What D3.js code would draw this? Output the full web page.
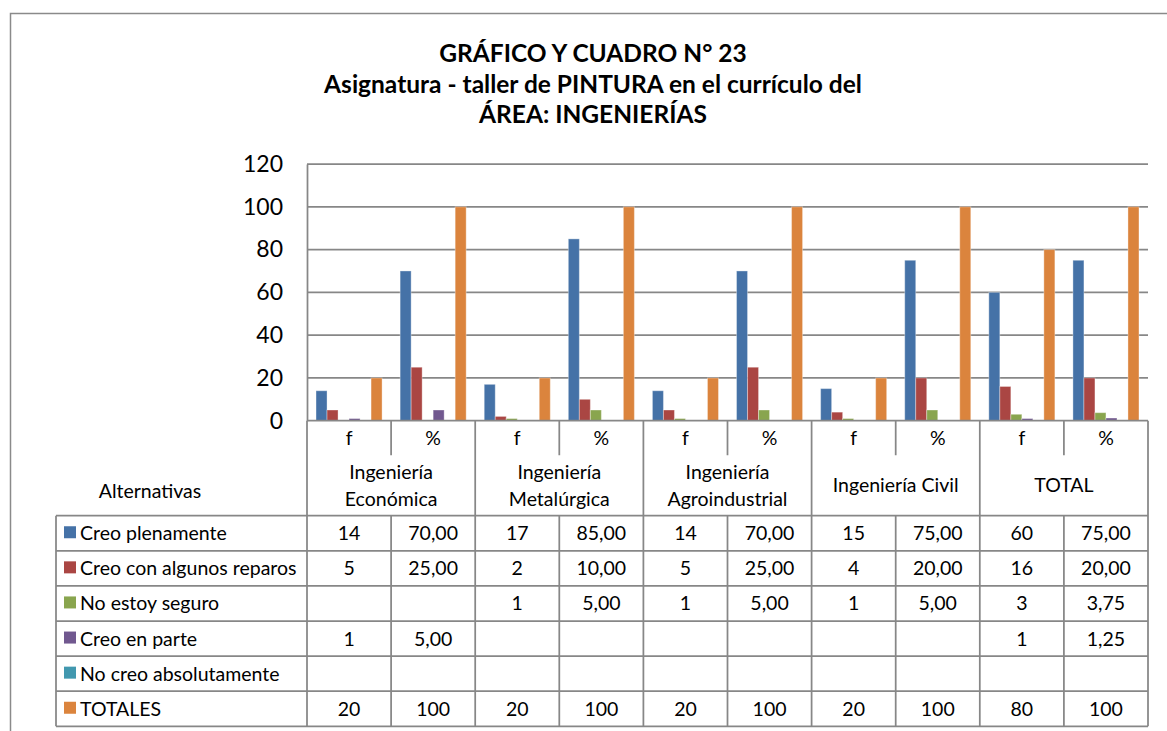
<!DOCTYPE html>
<html>
<head>
<meta charset="utf-8">
<script src="https://cdn.jsdelivr.net/npm/d3@7"></script>
<style>
  body { margin: 0; background: #fff; }
  text { font-family: Lato, "Noto Sans", sans-serif; fill: #000; }
</style>
</head>
<body>
<div id="chart"></div>
<script>
// Data
const titleLines = ["GRÁFICO Y CUADRO N° 23", "Asignatura - taller de PINTURA en el currículo del", "ÁREA: INGENIERÍAS"];
const groups = [["Ingeniería", "Económica"], ["Ingeniería", "Metalúrgica"], ["Ingeniería", "Agroindustrial"], ["Ingeniería Civil"], ["TOTAL"]];
const subCats = ["f", "%"];
const seriesNames = ["Creo plenamente", "Creo con algunos reparos", "No estoy seguro", "Creo en parte", "No creo absolutamente", "TOTALES"];
const creoPlenamente = [14, 70, 17, 85, 14, 70, 15, 75, 60, 75];
const creoConReparos = [5, 25, 2, 10, 5, 25, 4, 20, 16, 20];
const noEstoySeguro = [null, null, 1, 5, 1, 5, 1, 5, 3, 3.75];
const creoEnParte = [1, 5, null, null, null, null, null, null, 1, 1.25];
const noCreo = [null, null, null, null, null, null, null, null, null, null];
const totales = [20, 100, 20, 100, 20, 100, 20, 100, 80, 100];
const yTicks = [0, 20, 40, 60, 80, 100, 120];

const colorScheme = ["#4572A7", "#AA4643", "#89A54E", "#71588F", "#4198AF", "#DB843D"];
const series = [creoPlenamente, creoConReparos, noEstoySeguro, creoEnParte, noCreo, totales];

// categories f/% per group
const categories = [];
groups.forEach((g, gi) => subCats.forEach(s => categories.push(gi + "|" + s)));

const width = 1167;
const height = 731;
const plot = { left: 307, right: 1148, top: 164, bottom: 420.7 };
const tableTop = plot.bottom;
const subRowH = 34.5;
const groupRowH = 60.5;
const rowH = 35.1;
const legendLeft = 56;
const lineColor = "#878787";
const tableFont = "19.5px";

const svg = d3.select("#chart")
    .append("svg")
    .attr("width", width)
    .attr("height", height);

// outer frame
svg.append("path")
    .attr("d", `M10.5,${height} V13.5 H${width}`)
    .attr("fill", "none")
    .attr("stroke", "#8a8a8a")
    .attr("stroke-width", 1.5);

// Title
svg.append("g")
    .selectAll("text")
    .data(titleLines)
    .enter().append("text")
    .attr("x", 593)
    .attr("y", (d, i) => 62 + i * 30.5)
    .attr("text-anchor", "middle")
    .style("font-size", "24.5px")
    .style("font-weight", "bold")
    .text(d => d);

// Scales
const x0 = d3.scaleBand()
    .domain(categories)
    .range([plot.left, plot.right])
    .padding(0);

const x1 = d3.scaleBand()
    .domain(d3.range(series.length))
    .range([0, x0.bandwidth()])
    .paddingInner(0)
    .paddingOuter(0.82);

const y = d3.scaleLinear()
    .domain([0, 120])
    .range([plot.bottom, plot.top]);

// Gridlines
svg.append("g")
    .selectAll("line")
    .data(yTicks.filter(d => d > 0))
    .enter().append("line")
    .attr("x1", plot.left)
    .attr("x2", plot.right)
    .attr("y1", d => y(d))
    .attr("y2", d => y(d))
    .attr("stroke", lineColor)
    .attr("stroke-width", 1.75);

// Y axis
const yAxis = svg.append("g")
    .attr("transform", `translate(${plot.left},0)`)
    .call(d3.axisLeft(y).tickValues(yTicks).tickSize(0).tickPadding(24));
yAxis.select(".domain").attr("stroke", lineColor).attr("stroke-width", 1.75);
yAxis.selectAll("text")
    .style("font-size", "23px")
    .style("font-family", "Lato, sans-serif")
    .attr("fill", "#000");

// Bars
const barGroups = svg.append("g")
    .selectAll("g")
    .data(categories)
    .enter().append("g")
    .attr("transform", d => `translate(${x0(d)},0)`);

barGroups.selectAll("rect")
    .data((c, ci) => series.map((s, si) => ({ si: si, v: s[ci] })).filter(d => d.v !== null))
    .enter().append("rect")
    .attr("x", d => x1(d.si))
    .attr("width", x1.bandwidth())
    .attr("y", d => y(d.v))
    .attr("height", d => y(0) - y(d.v))
    .attr("fill", d => colorScheme[d.si])
    .attr("stroke", "#ffffff")
    .attr("stroke-opacity", 0.35)
    .attr("stroke-width", 1);

// Data table
const table = svg.append("g");
const groupW = x0.bandwidth() * 2;
const rowsTop = tableTop + subRowH + groupRowH;
const tableBottom = rowsTop + rowH * series.length;

// sub-category labels
table.selectAll(".sub")
    .data(categories)
    .enter().append("text")
    .attr("class", "sub")
    .attr("x", d => x0(d) + x0.bandwidth() / 2)
    .attr("y", tableTop + subRowH / 2 + 7)
    .attr("text-anchor", "middle")
    .style("font-size", tableFont)
    .text(d => d.split("|")[1]);

// group labels
groups.forEach((g, gi) => {
    const cx = plot.left + groupW * gi + groupW / 2;
    const cy = tableTop + subRowH + groupRowH / 2;
    table.append("g").selectAll("text")
        .data(g)
        .enter().append("text")
        .attr("x", cx)
        .attr("y", (d, i) => cy + 7 + (i - (g.length - 1) / 2) * 27)
        .attr("text-anchor", "middle")
        .style("font-size", tableFont)
        .text(d => d);
});

table.append("text")
    .attr("x", 150)
    .attr("y", tableTop + subRowH + groupRowH / 2 + 13)
    .attr("text-anchor", "middle")
    .style("font-size", tableFont)
    .text("Alternativas");

// table lines
const vLines = [];
categories.forEach((c, i) => {
    if (i === 0) return;
    vLines.push({ x: x0(c), sub: i % 2 === 1 });
});
table.selectAll(".vl")
    .data(vLines)
    .enter().append("path")
    .attr("d", d => d.sub
        ? `M${d.x},${tableTop} V${tableTop + subRowH} M${d.x},${rowsTop} V${tableBottom}`
        : `M${d.x},${tableTop} V${tableBottom}`)
    .attr("fill", "none")
    .attr("stroke", lineColor)
    .attr("stroke-width", 1.75);

// outer verticals
table.append("path")
    .attr("d", `M${plot.left},${tableTop} V${tableBottom} M${plot.right},${tableTop} V${tableBottom} M${legendLeft},${rowsTop} V${tableBottom}`)
    .attr("fill", "none")
    .attr("stroke", lineColor)
    .attr("stroke-width", 1.75);

// horizontal lines
table.append("path")
    .attr("d", `M${plot.left},${tableTop} H${plot.right}`)
    .attr("stroke", lineColor)
    .attr("stroke-width", 1.75);
table.selectAll(".hl")
    .data(d3.range(series.length + 1))
    .enter().append("line")
    .attr("x1", legendLeft)
    .attr("x2", plot.right)
    .attr("y1", i => rowsTop + i * rowH)
    .attr("y2", i => rowsTop + i * rowH)
    .attr("stroke", lineColor)
    .attr("stroke-width", 1.75);

// legend rows
const rows = table.selectAll(".row")
    .data(series)
    .enter().append("g")
    .attr("class", "row")
    .attr("transform", (d, i) => `translate(0,${rowsTop + i * rowH})`);

rows.append("rect")
    .attr("x", 64)
    .attr("y", rowH / 2 - 7)
    .attr("width", 12)
    .attr("height", 12)
    .attr("fill", (d, i) => colorScheme[i]);

rows.append("text")
    .attr("x", 80)
    .attr("y", rowH / 2 + 7)
    .style("font-size", tableFont)
    .text((d, i) => seriesNames[i]);

function fmt(v, ci, si) {
    if (v === null) return "";
    if (ci % 2 === 1 && si !== series.length - 1) return d3.format(".2f")(v).replace(".", ",");
    return String(v);
}

rows.each(function(s, si) {
    d3.select(this).selectAll(".val")
        .data(s)
        .enter().append("text")
        .attr("class", "val")
        .attr("x", (v, ci) => x0(categories[ci]) + x0.bandwidth() / 2)
        .attr("y", rowH / 2 + 7)
        .attr("text-anchor", "middle")
        .style("font-size", tableFont)
        .text((v, ci) => fmt(v, ci, si));
});
</script>
</body>
</html>
